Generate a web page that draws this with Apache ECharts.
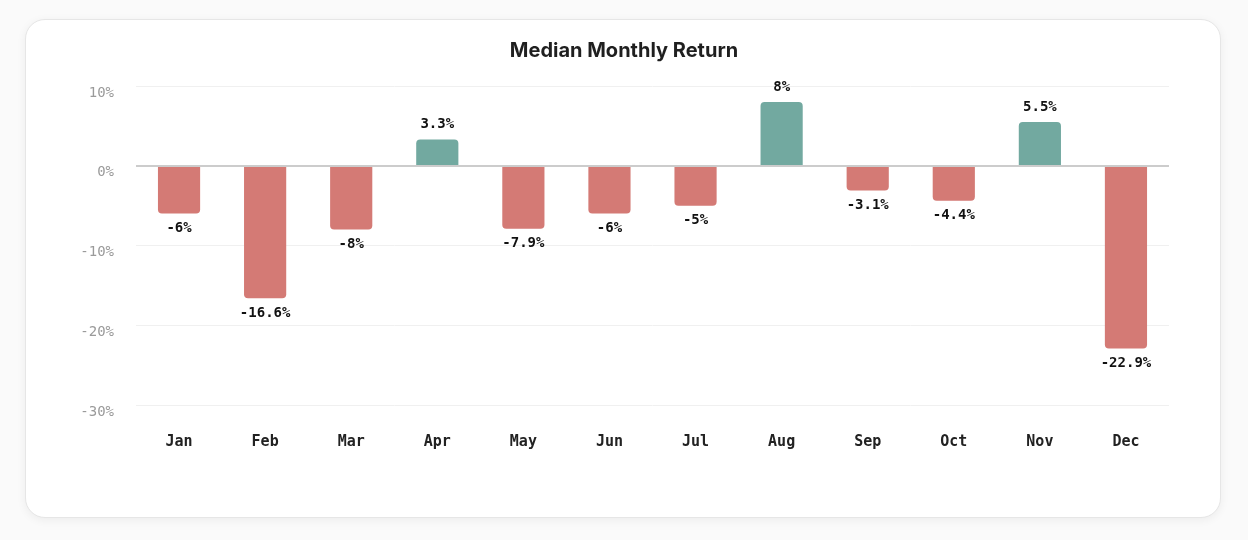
<!DOCTYPE html>
<html>
<head>
<meta charset="utf-8">
<script src="https://cdn.jsdelivr.net/npm/echarts@6/dist/echarts.min.js"></script>
<style>
  html, body { margin: 0; padding: 0; width: 1248px; height: 540px; background: #fafafa; overflow: hidden; }
  #card { position: absolute; left: 25px; top: 19px; width: 1196px; height: 499px; background: #fff;
          border: 1px solid #e6e6e6; border-radius: 20px; box-sizing: border-box;
          box-shadow: 0 2px 10px rgba(0,0,0,0.06); }
  #chart { position: absolute; left: 0; top: 0; width: 1248px; height: 540px; }
</style>
</head>
<body>
<div id="card"></div>
<div id="chart"></div>
<script>
const months = ['Jan','Feb','Mar','Apr','May','Jun','Jul','Aug','Sep','Oct','Nov','Dec'];
const medianReturns = [-6, -16.6, -8, 3.3, -7.9, -6, -5, 8, -3.1, -4.4, 5.5, -22.9];
const yTicks = { min: -30, max: 10, interval: 10 };

const POS = '#72a9a0', NEG = '#d47a75';
const mono = '"DejaVu Sans Mono", monospace';

const chart = echarts.init(document.getElementById('chart'));
chart.setOption({
  animation: false,
  title: {
    text: 'Median Monthly Return', left: 'center', top: 36,
    textStyle: { fontFamily: 'Inter, "Noto Sans", sans-serif', fontWeight: 'bold', fontSize: 20, color: '#1f1f1f' }
  },
  grid: { left: 136, right: 79, top: 86, bottom: 135 },
  xAxis: {
    type: 'category', data: months,
    axisLine: { show: false, onZero: false }, axisTick: { show: false },
    axisLabel: { margin: 30, fontFamily: mono, fontSize: 15, color: '#222', fontWeight: 'bold' }
  },
  yAxis: {
    type: 'value', min: yTicks.min, max: yTicks.max, interval: yTicks.interval,
    axisLabel: { formatter: '{value}%', fontFamily: mono, fontSize: 14, color: '#9a9a9a', margin: 22, verticalAlign: 'top' },
    splitLine: { lineStyle: { color: '#f0f0f0', width: 1 } },
    axisLine: { show: false }, axisTick: { show: false }
  },
  series: [{
    type: 'bar', barWidth: '49%',
    data: medianReturns.map(v => ({
      value: v,
      itemStyle: { color: v >= 0 ? POS : NEG, borderRadius: v >= 0 ? [4,4,0,0] : [0,0,4,4] },
      label: { position: v >= 0 ? 'top' : 'bottom' }
    })),
    label: { show: true, distance: 8, formatter: p => p.value + '%', fontFamily: mono, fontSize: 14, fontWeight: 'bold', color: '#111' },
    markLine: {
      silent: true, symbol: 'none', label: { show: false },
      lineStyle: { color: '#cccccc', width: 2, type: 'solid' },
      data: [{ yAxis: 0 }]
    }
  }]
});
</script>
</body>
</html>
